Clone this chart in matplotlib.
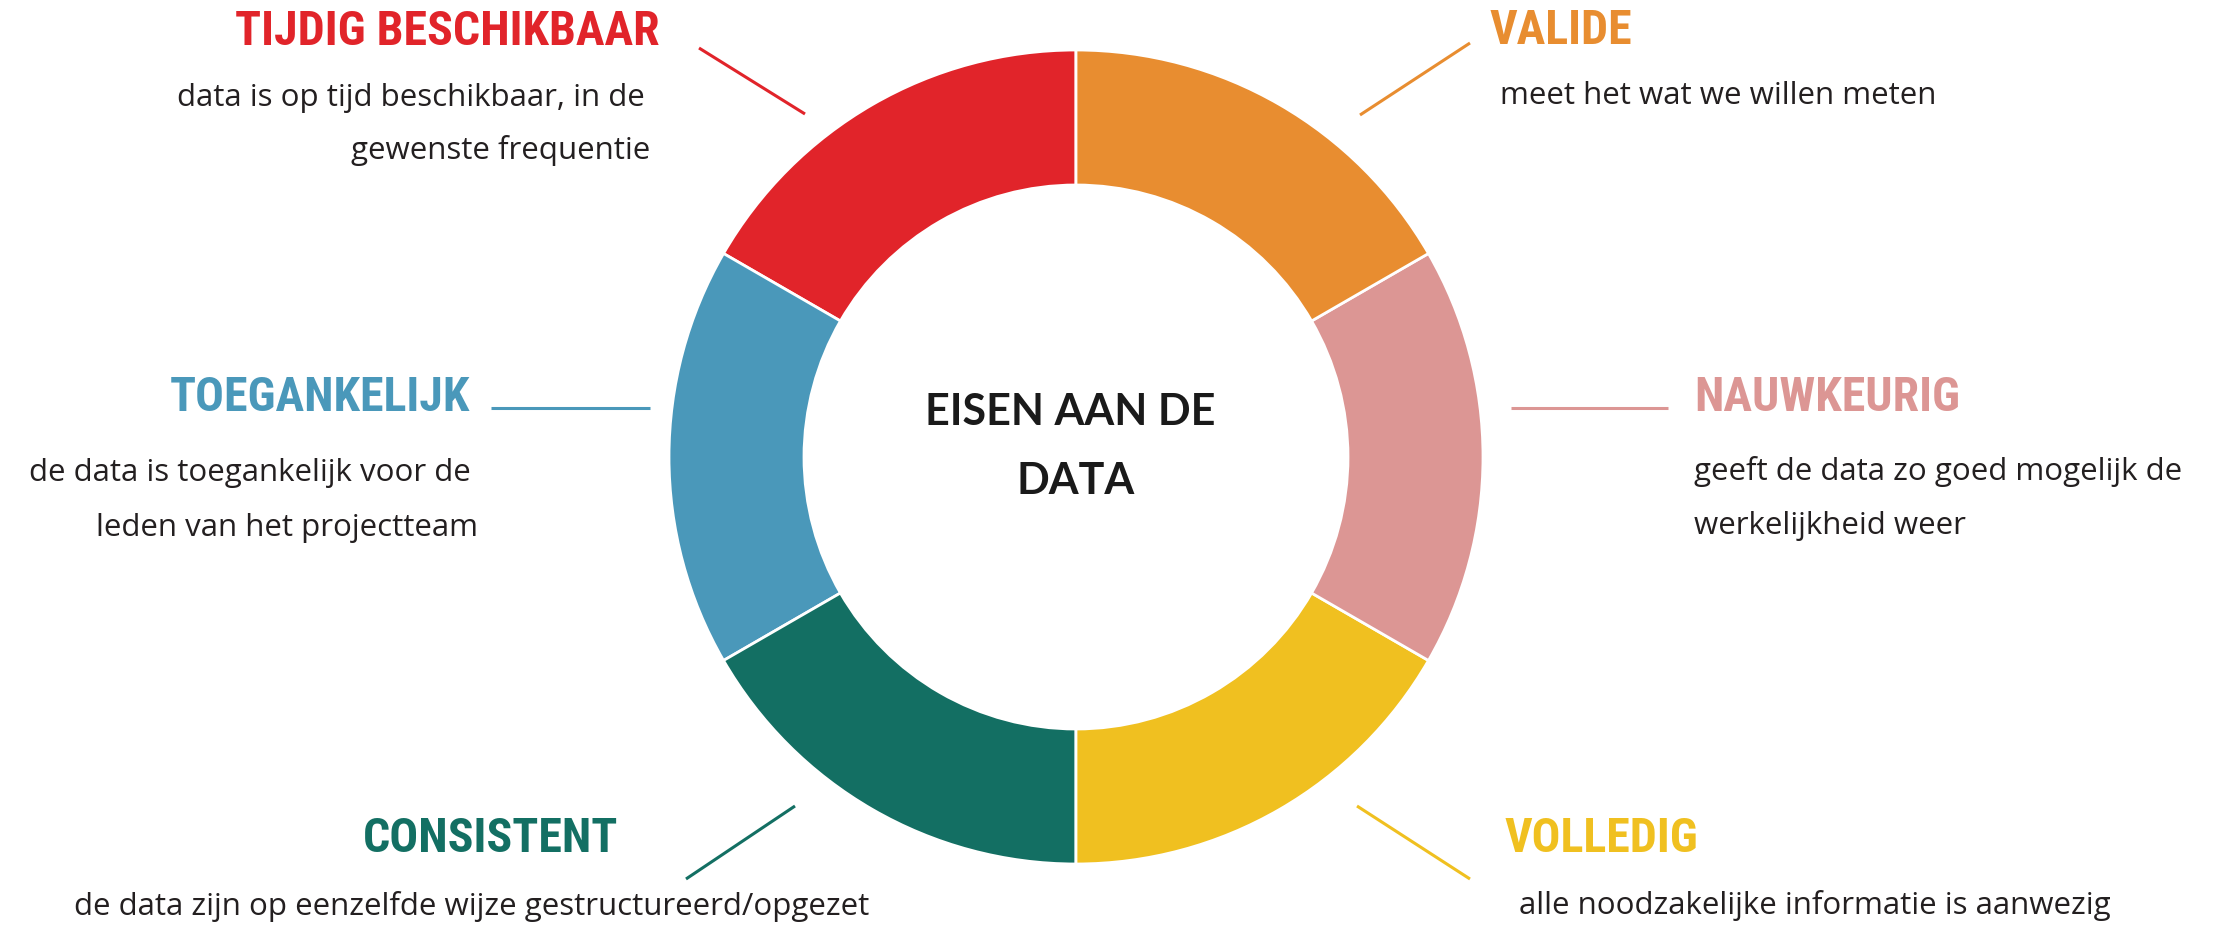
import matplotlib
matplotlib.use("Agg")
import matplotlib.pyplot as plt
from matplotlib import font_manager

# ---------------- data ----------------
categories = ["TIJDIG BESCHIKBAAR", "TOEGANKELIJK", "CONSISTENT",
              "VOLLEDIG", "NAUWKEURIG", "VALIDE"]
values = [1, 1, 1, 1, 1, 1]
colors = ["#E1242A", "#4A98BA", "#136F63", "#F0C020", "#DC9694", "#E88D30"]
descriptions = [
    ["data is op tijd beschikbaar, in de", "gewenste frequentie"],
    ["de data is toegankelijk voor de", "leden van het projectteam"],
    ["de data zijn op eenzelfde wijze gestructureerd/opgezet"],
    ["alle noodzakelijke informatie is aanwezig"],
    ["geeft de data zo goed mogelijk de", "werkelijkheid weer"],
    ["meet het wat we willen meten"],
]
center_lines = ["EISEN AAN DE", "DATA"]

# ---------------- layout (pixel coords, y from top) ----------------
W, H = 2219, 927
CX, CY = 1076, 457
R_OUT, RING_W = 407, 135

# title: (ha, x, baseline)
title_pos = [("right", 660, 45), ("right", 470, 411), ("right", 618, 852),
             ("left", 1505, 852), ("left", 1694, 411), ("left", 1490, 44)]
# description lines: list of (ha, x, baseline)
desc_pos = [
    [("right", 645, 106), ("right", 650, 159)],
    [("right", 471, 481), ("right", 478, 536)],
    [("center", 472, 915)],
    [("left", 1519, 914)],
    [("left", 1694, 480), ("left", 1694, 534)],
    [("left", 1500, 104)],
]
leaders = [((699, 48), (805, 114)), ((491, 408), (650, 408)),
           ((795, 806), (686, 879)), ((1357, 806), (1470, 879)),
           ((1511, 408), (1668, 408)), ((1470, 43), (1360, 115))]

avail = {f.name for f in font_manager.fontManager.ttflist}
if "Roboto Condensed" in avail:
    title_font, title_size = "Roboto Condensed", 34.5
elif "Liberation Sans Narrow" in avail:
    title_font, title_size = "Liberation Sans Narrow", 34
else:
    title_font, title_size = "Roboto", 30.5
body_font = "Open Sans" if "Open Sans" in avail else "DejaVu Sans"
center_font = "Lato" if "Lato" in avail else "DejaVu Sans"

fig = plt.figure(figsize=(W / 100, H / 100), dpi=100)
ax = fig.add_axes([0, 0, 1, 1])

ax.pie(values, colors=colors, startangle=90, counterclock=True,
       radius=R_OUT, center=(CX, H - CY),
       wedgeprops=dict(width=RING_W, edgecolor="white", linewidth=2))

ax.set_xlim(0, W)
ax.set_ylim(0, H)
ax.set_aspect("equal")
ax.axis("off")

for i, cat in enumerate(categories):
    ha, x, y = title_pos[i]
    ax.text(x, H - y, cat, ha=ha, va="baseline", color=colors[i],
            fontsize=title_size, fontweight="bold", family=title_font)
    for line, (lha, lx, ly) in zip(descriptions[i], desc_pos[i]):
        ax.text(lx, H - ly, line, ha=lha, va="baseline", color="#231F20",
                fontsize=22.5, family=body_font)
    (x0, y0), (x1, y1) = leaders[i]
    ax.plot([x0, x1], [H - y0, H - y1], color=colors[i], lw=2.2,
            solid_capstyle="butt")

center_y = [425, 494]
center_x = [1070, 1076]
for line, cx, cy in zip(center_lines, center_x, center_y):
    ax.text(cx, H - cy, line, ha="center", va="baseline", color="#1A1A1A",
            fontsize=31, fontweight="bold", family=center_font)

fig.savefig("out.png", dpi=100, facecolor="white")
